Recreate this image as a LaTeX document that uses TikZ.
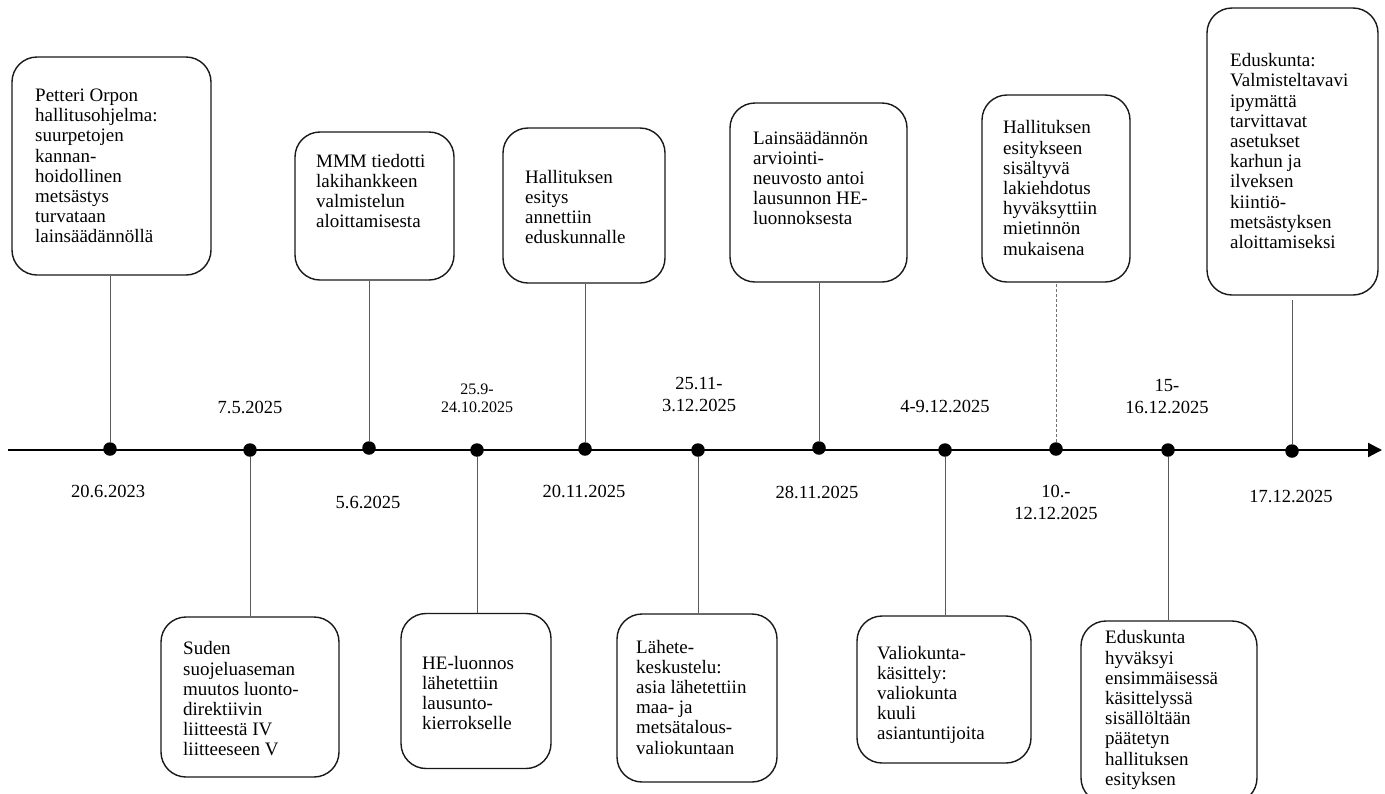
\documentclass[tikz,border=0pt]{standalone}
\usepackage{fontspec}
\setmainfont{Liberation Serif}
\usetikzlibrary{arrows.meta}
\begin{document}
\begin{tikzpicture}[x=1pt,y=-1pt,
  evbox/.style={draw=black!90,line width=1.4pt,rounded corners=25pt,inner sep=0pt},
  evtext/.style={anchor=west,align=left,inner sep=0pt,font=\fontsize{19}{20.2}\selectfont},
  datetext/.style={align=center,inner sep=0pt,font=\fontsize{18.5}{22}\selectfont},
  smalldate/.style={align=center,inner sep=0pt,font=\fontsize{16}{18}\selectfont},
  dot/.style={circle,fill=black,inner sep=0pt,minimum size=13.5pt},
  conn/.style={draw=black!65,line width=0.9pt},
  dashconn/.style={draw=black!55,line width=0.9pt,densely dashed}]
\useasboundingbox (0,0) rectangle (1385,793);
\fill[white] (0,0) rectangle (1385,793);

% boxes
\node[evbox,minimum width=199pt,minimum height=218pt] (b1) at (111.5,166) {};
\node[evbox,minimum width=178pt,minimum height=160pt] (b2) at (250,697) {};
\node[evbox,minimum width=159pt,minimum height=148pt] (b3) at (374.5,206) {};
\node[evbox,minimum width=150pt,minimum height=155pt] (b4) at (476,691) {};
\node[evbox,minimum width=162pt,minimum height=155pt] (b5) at (584,205.5) {};
\node[evbox,minimum width=160pt,minimum height=168pt] (b6) at (697,698) {};
\node[evbox,minimum width=177pt,minimum height=179pt] (b7) at (818.5,192.5) {};
\node[evbox,minimum width=174pt,minimum height=147pt] (b8) at (944,689.5) {};
\node[evbox,minimum width=148pt,minimum height=187pt] (b9) at (1056,188.5) {};
\node[evbox,minimum width=176pt,minimum height=182pt] (b10) at (1169,712) {};
\node[evbox,minimum width=171pt,minimum height=287pt] (b11) at (1292.5,151.5) {};

% texts
\node[evtext] (t1) at (35,166) {Petteri Orpon\\hallitusohjelma:\\suurpetojen\\kannan-\\hoidollinen\\metsästys\\turvataan\\lainsäädännöllä};
\node[evtext] (t2) at (183,699) {Suden\\suojeluaseman\\muutos luonto-\\direktiivin\\liitteestä IV\\liitteeseen V};
\node[evtext] (t3) at (316,191) {MMM tiedotti\\lakihankkeen\\valmistelun\\aloittamisesta};
\node[evtext] (t4) at (422,693) {HE-luonnos\\lähetettiin\\lausunto-\\kierrokselle};
\node[evtext] (t5) at (525,207) {Hallituksen\\esitys\\annettiin\\eduskunnalle};
\node[evtext] (t6) at (636,697) {Lähete-\\keskustelu:\\asia lähetettiin\\maa- ja\\metsätalous-\\valiokuntaan};
\node[evtext] (t7) at (753,178) {Lainsäädännön\\arviointi-\\neuvosto antoi\\lausunnon HE-\\luonnoksesta};
\node[evtext] (t8) at (877,695) {Valiokunta-\\käsittely:\\valiokunta\\kuuli\\asiantuntijoita};
\node[evtext] (t9) at (1003,188) {Hallituksen\\esitykseen\\sisältyvä\\lakiehdotus\\hyväksyttiin\\mietinnön\\mukaisena};
\node[evtext] (t10) at (1105,710) {Eduskunta\\hyväksyi\\ensimmäisessä\\käsittelyssä\\sisällöltään\\päätetyn\\hallituksen\\esityksen};
\node[evtext] (t11) at (1230,151) {Eduskunta:\\Valmisteltavavi\\ipymättä\\tarvittavat\\asetukset\\karhun ja\\ilveksen\\kiintiö-\\metsästyksen\\aloittamiseksi};

% timeline
\coordinate (tl0) at (8,450);
\coordinate (tl1) at (1382,450);
\draw[line width=2.2pt,-{Triangle[length=14pt,width=14pt]}] (tl0) -- (tl1);

% dots
\node[dot] (d1) at (110,449) {};
\node[dot] (d2) at (250,450) {};
\node[dot] (d3) at (369,448) {};
\node[dot] (d4) at (477,450) {};
\node[dot] (d5) at (585,449) {};
\node[dot] (d6) at (698,450) {};
\node[dot] (d7) at (819,448) {};
\node[dot] (d8) at (945,450) {};
\node[dot] (d9) at (1056,449) {};
\node[dot] (d10) at (1168,450) {};
\node[dot] (d11) at (1292,451) {};

% connectors
\draw[conn] (d1.north) -- (d1 |- b1.south);
\draw[conn] (d2.south) -- (d2 |- b2.north);
\draw[conn] (d3.north) -- (d3 |- b3.south);
\draw[conn] (d4.south) -- (d4 |- b4.north);
\draw[conn] (d5.north) -- (d5 |- b5.south);
\draw[conn] (d6.south) -- (d6 |- b6.north);
\draw[conn] (d7.north) -- (d7 |- b7.south);
\draw[conn] (d8.south) -- (d8 |- b8.north);
\draw[dashconn] (d9.north) -- (d9 |- b9.south);
\draw[conn] (d10.south) -- (d10 |- b10.north);
\draw[conn] (d11.north) -- ([yshift=-4pt]d11 |- b11.south);

% dates
\node[datetext] (l1) at (108,491) {20.6.2023};
\node[datetext] (l2) at (250,407) {7.5.2025};
\node[datetext] (l3) at (368,502) {5.6.2025};
\node[smalldate] (l4) at (477,398) {25.9-\\24.10.2025};
\node[datetext] (l5) at (584,491) {20.11.2025};
\node[datetext] (l6) at (699,394) {25.11-\\3.12.2025};
\node[datetext] (l7) at (817,492) {28.11.2025};
\node[datetext] (l8) at (945,406) {4-9.12.2025};
\node[datetext] (l9) at (1056,502) {10.-\\12.12.2025};
\node[datetext] (l10) at (1167,397) {15-\\16.12.2025};
\node[datetext] (l11) at (1291,496) {17.12.2025};
\end{tikzpicture}
\end{document}
